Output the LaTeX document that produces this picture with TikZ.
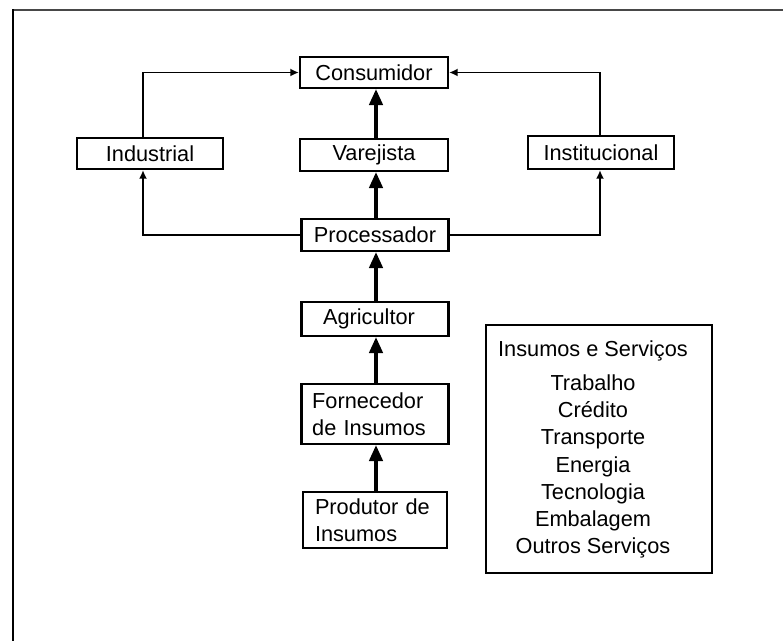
\documentclass[tikz,border=0pt]{standalone}
\usepackage{fontspec}
\setmainfont{Liberation Sans}
\usetikzlibrary{arrows.meta,calc}
\tikzset{
  box/.style={draw=black, line width=1.6pt, rectangle, inner sep=0pt, fill=white,
              font=\fontsize{16.3pt}{20.4pt}\selectfont},
  thinarrow/.style={draw=black, line width=1.3pt, -{Latex[length=6.5pt,width=6pt]}},
  thickarrow/.style={draw=black, line width=2.6pt, -{Triangle[length=12pt,width=10pt]}},
  frameline/.style={line width=1.6pt},
  lbl/.style={font=\fontsize{16.3pt}{20.4pt}\selectfont, inner sep=0pt}
}
\begin{document}
\begin{tikzpicture}[x=0.75pt, y=-0.75pt]
\useasboundingbox (0,0) rectangle (783,641);
% outer frame (partly visible)
\draw[frameline, draw=black!72] (12.4,10) -- (783,10);
\draw[frameline, draw=black] (13,9.4) -- (13,641);

% nodes
\node[box, minimum width=148*0.75pt, minimum height=31*0.75pt] (cons) at (374,72.5) {Consumidor};
\node[box, minimum width=146*0.75pt, minimum height=31*0.75pt] (ind) at (150,153.5) {Industrial};
\node[box, minimum width=148*0.75pt, minimum height=32*0.75pt] (var) at (374,155) {Varejista};
\node[box, minimum width=146*0.75pt, minimum height=33*0.75pt] (inst) at (601,152.5) {Institucional};
\node[box, minimum width=147*0.75pt, minimum height=32*0.75pt] (proc) at (375,235) {Processador};
\node[box, minimum width=147*0.75pt, minimum height=34*0.75pt] (agr) at (375,319) {\hspace*{-9pt}Agricultor};
\node[box, minimum width=147*0.75pt, minimum height=60*0.75pt, align=left, text width=147*0.75pt-16pt] (forn) at (375,414) {Fornecedor\\de Insumos};
\node[box, minimum width=144*0.75pt, minimum height=56*0.75pt, align=left, text width=144*0.75pt-18pt] (prod) at (375,520) {Produtor de\\Insumos};

% Insumos e Servicos box
\node[box, minimum width=226*0.75pt, minimum height=248*0.75pt] (ins) at (599,449) {};
\node[lbl, align=center] (instext) at (593,449.5) {Insumos e Serviços\\[5pt]Trabalho\\Crédito\\Transporte\\Energia\\Tecnologia\\Embalagem\\Outros Serviços};

% connector helper coordinates
\coordinate (lx) at (143,71);
\coordinate (rx) at (600,73);
\coordinate (ax) at (376,0);

% thin side connectors
\draw[thinarrow] (ind.north -| lx) |- (cons.west);
\draw[thinarrow] (proc.west) -| (ind.south -| lx);
\draw[thinarrow] (inst.north -| rx) |- (cons.east);
\draw[thinarrow] (proc.east) -| (inst.south -| rx);

% thick central arrows
\draw[thickarrow] (var.north -| ax) -- (cons.south -| ax);
\draw[thickarrow] (proc.north -| ax) -- (var.south -| ax);
\draw[thickarrow] (agr.north -| ax) -- (proc.south -| ax);
\draw[thickarrow] (forn.north -| ax) -- (agr.south -| ax);
\draw[thickarrow] (prod.north -| ax) -- (forn.south -| ax);
\end{tikzpicture}
\end{document}
